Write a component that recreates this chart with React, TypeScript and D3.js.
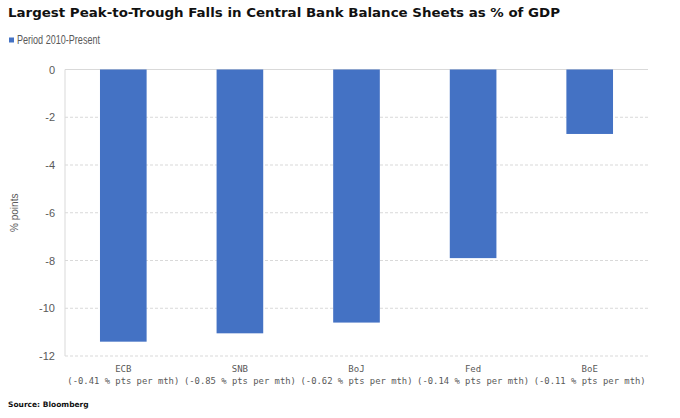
import React from "react";
import * as d3 from "d3";

const categories = ["ECB", "SNB", "BoJ", "Fed", "BoE"];
const rates = ["(-0.41 % pts per mth)", "(-0.85 % pts per mth)", "(-0.62 % pts per mth)", "(-0.14 % pts per mth)", "(-0.11 % pts per mth)"];
const values = [-11.4, -11.05, -10.6, -7.9, -2.7];
const yTicks = [0, -2, -4, -6, -8, -10, -12];
const title = "Largest Peak-to-Trough Falls in Central Bank Balance Sheets as % of GDP";
const legendLabel = "Period 2010-Present";
const yLabel = "% points";
const source = "Source: Bloomberg";

export default function App() {
  const W = 680, H = 418;
  const left = 65, right = 648, top = 69.5, bottom = 356;
  const x = d3.scaleBand<string>().domain(categories).range([left, right]).paddingInner(0.6).paddingOuter(0.3);
  const y = d3.scaleLinear().domain([0, -12]).range([top, bottom]);
  const grey = "#595959";
  return (
    <svg width={W} height={H} style={{ position: "absolute", left: 0, top: 0, background: "#fff" }}>
      <text x={8} y={17} fontFamily="DejaVu Sans" fontWeight="bold" fontSize={13} fill="#111" textLength={552} lengthAdjust="spacingAndGlyphs">{title}</text>
      <rect x={9} y={37.5} width={5} height={5} fill="#4472C4" />
      <text x={17} y={44} fontFamily="Liberation Sans" fontSize={12} fill={grey} textLength={83} lengthAdjust="spacingAndGlyphs">{legendLabel}</text>
      {yTicks.map((t) => (
        <g key={t}>
          <line x1={left} x2={right} y1={y(t)} y2={y(t)} stroke="#d9d9d9" strokeWidth={1} strokeDasharray={t === 0 ? undefined : "3,2"} />
          <text x={55} y={y(t) + 4} textAnchor="end" fontFamily="Liberation Sans" fontSize={11} fill={grey}>{t === 0 ? "0" : "-" + Math.abs(t)}</text>
        </g>
      ))}
      <line x1={left} x2={left} y1={top} y2={bottom} stroke="#d9d9d9" />
      <text transform={`translate(18,${(top + bottom) / 2}) rotate(-90)`} textAnchor="middle" fontFamily="Liberation Sans" fontSize={10} fill={grey}>{yLabel}</text>
      {categories.map((c, i) => (
        <g key={c}>
          <rect x={x(c)} y={y(0)} width={x.bandwidth()} height={y(values[i]) - y(0)} fill="#4472C4" />
          <text x={(x(c) as number) + x.bandwidth() / 2} y={372} textAnchor="middle" fontFamily="DejaVu Sans Mono" fontSize={9} fill={grey}>{c}</text>
          <text x={(x(c) as number) + x.bandwidth() / 2} y={384} textAnchor="middle" fontFamily="DejaVu Sans Mono" fontSize={9} fill={grey} textLength={112} lengthAdjust="spacingAndGlyphs">{rates[i]}</text>
        </g>
      ))}
      <text x={8} y={407} fontFamily="DejaVu Sans" fontWeight="bold" fontSize={7.5} fill="#111">{source}</text>
    </svg>
  );
}
